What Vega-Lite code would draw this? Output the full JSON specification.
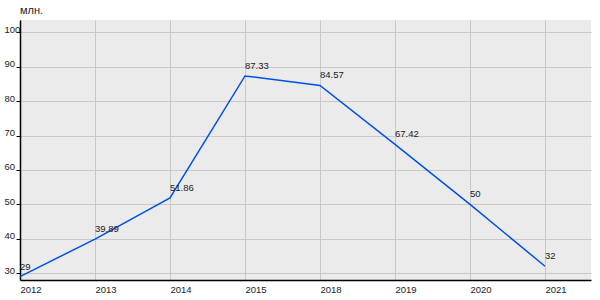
{
  "$schema": "https://vega.github.io/schema/vega-lite/v6.json",
  "width": 571,
  "height": 260,
  "autosize": {"type": "none"},
  "padding": {"left": 20, "top": 20, "right": 9, "bottom": 20},
  "background": "white",
  "title": {"text": "млн.", "anchor": "start", "frame": "group", "font": "Liberation Sans", "fontSize": 11, "fontWeight": "normal", "color": "#222222", "offset": 4},
  "config": {
    "view": {"fill": "#EBEBEB", "stroke": null},
    "axis": {
      "labelFont": "Liberation Sans",
      "labelFontSize": 9.5,
      "labelColor": "#222222",
      "gridColor": "#C8C8C8",
      "gridWidth": 1,
      "domainColor": "#000000",
      "domainWidth": 1.5,
      "tickColor": "#000000",
      "title": null
    }
  },
  "data": {
    "values": [
      {"year": "2012", "value": 29},
      {"year": "2013", "value": 39.89},
      {"year": "2014", "value": 51.86},
      {"year": "2015", "value": 87.33},
      {"year": "2018", "value": 84.57},
      {"year": "2019", "value": 67.42},
      {"year": "2020", "value": 50},
      {"year": "2021", "value": 32}
    ]
  },
  "encoding": {
    "x": {
      "field": "year",
      "type": "ordinal",
      "sort": null,
      "scale": {"type": "point", "padding": 0.3067, "align": 0},
      "axis": {"labelAngle": 0, "labelAlign": "left", "labelBaseline": "top", "labelPadding": 4, "tickSize": 0, "grid": true, "labelOverlap": false, "labelBound": false}
    },
    "y": {
      "field": "value",
      "type": "quantitative",
      "scale": {"domain": [28, 103.6], "nice": false, "zero": false},
      "axis": {"values": [30, 40, 50, 60, 70, 80, 90, 100], "labelAlign": "left", "labelBaseline": "alphabetic", "labelPadding": 12, "tickSize": 4, "grid": true, "labelOverlap": false, "labelBound": false}
    }
  },
  "layer": [
    {"mark": {"type": "line", "color": "#0050E6", "strokeWidth": 1.5}},
    {
      "mark": {"type": "text", "align": "left", "baseline": "alphabetic", "dy": -7, "font": "Liberation Sans", "fontSize": 9.5, "color": "#222222"},
      "encoding": {"text": {"field": "value", "type": "quantitative"}}
    }
  ]
}
